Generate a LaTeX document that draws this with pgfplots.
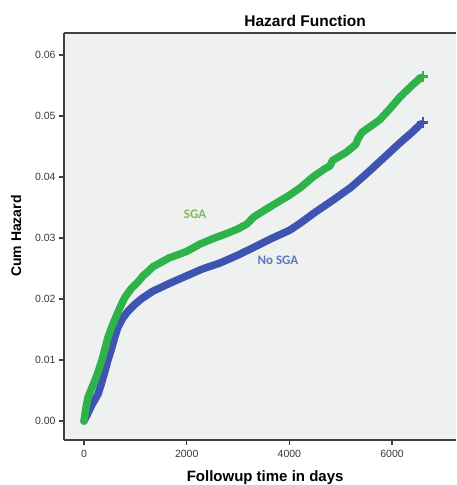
\documentclass[border=0pt]{standalone}
\usepackage{fontspec}
\setmainfont{Liberation Sans}
\newfontfamily\carlito{Carlito}
\usepackage{pgfplots}
\pgfplotsset{compat=1.18}
\definecolor{sgagreen}{RGB}{46,178,74}
\definecolor{nosgablue}{RGB}{62,84,176}
\definecolor{sgatext}{RGB}{122,186,92}
\definecolor{nosgatext}{RGB}{88,120,192}
\definecolor{bgc}{RGB}{239,240,240}
\definecolor{axc}{RGB}{64,64,64}
\begin{document}
\begin{tikzpicture}
\begin{axis}[
  scale only axis,
  width=392pt, height=407pt,
  xmin=-390, xmax=7246,
  ymin=-0.00311, ymax=0.0636,
  axis x line*=bottom,
  axis y line*=left,
  axis line style={axc, line width=1.1pt},
  axis background/.style={fill=bgc},
  xtick={0,2000,4000,6000},
  ytick={0,0.01,0.02,0.03,0.04,0.05,0.06},
  tick align=outside,
  major tick length=5pt,
  tick style={axc, line width=1.1pt},
  scaled ticks=false,
  /pgf/number format/assume math mode=true,
  xticklabel style={yshift=-1.5pt, /pgf/number format/.cd, fixed, 1000 sep={}},
  yticklabel style={/pgf/number format/.cd, fixed, fixed zerofill, precision=2},
  tick label style={font=\fontsize{10.5}{12}\selectfont, text=black!78},
  title={Hazard Function},
  every axis title/.style={at={(axis description cs:0.615,1.0295)}, anchor=center, font=\fontsize{15.5}{18}\selectfont\bfseries},
  xlabel={Followup time in days},
  xlabel style={at={(axis description cs:0.513,-0.0934)}, anchor=center, font=\fontsize{15}{18}\selectfont\bfseries},
  ylabel={Cum Hazard},
  ylabel style={at={(axis description cs:-0.1224,0.501)}, anchor=center, font=\fontsize{14}{17}\selectfont\bfseries},
  clip=false,
]
\coordinate (O) at (rel axis cs:0,0);
\draw[axc, line width=1.1pt] (rel axis cs:0,1) -- (rel axis cs:1,1);
% No SGA
\addplot[nosgablue, line width=7.5pt, line join=round, line cap=round] coordinates {
(0,0) (60,0.0010) (150,0.0026) (273,0.0044) (340,0.0062) (409,0.0082)
(460,0.0098) (545,0.0121) (600,0.0138) (662,0.0154) (750,0.0168)
(857,0.0180) (1000,0.0192) (1130,0.0201) (1344,0.0213)
(1500,0.0219) (1675,0.0226) (2000,0.0238) (2300,0.0249) (2649,0.0259)
(3000,0.0272) (3291,0.0284) (3650,0.0299) (4012,0.0313) (4207,0.0324)
(4500,0.0342) (4849,0.0362) (5200,0.0383) (5511,0.0406) (5822,0.0430)
(6154,0.0456) (6400,0.0474) (6560,0.0487)
};
% SGA
\addplot[sgagreen, line width=7.5pt, line join=round, line cap=round] coordinates {
(0,0) (30,0.0018) (78,0.0039) (140,0.0052) (214,0.0067) (280,0.0082)
(350,0.0100) (410,0.0119) (467,0.0137) (530,0.0152)
(604,0.0167) (700,0.0186) (798,0.0203) (920,0.0217)
(1052,0.0228) (1150,0.0238) (1247,0.0245) (1344,0.0253) (1500,0.0260) (1650,0.0267)
(1811,0.0272) (2000,0.0278) (2259,0.0290) (2512,0.0299) (2800,0.0308)
(3000,0.0315) (3174,0.0323) (3300,0.0334) (3486,0.0344) (3800,0.0360)
(4000,0.0370) (4207,0.0382) (4460,0.0400) (4700,0.0414) (4790,0.0418) (4840,0.0427)
(5100,0.0440) (5290,0.0453) (5340,0.0463) (5414,0.0473) (5765,0.0494)
(5959,0.0512) (6154,0.0531) (6400,0.0551) (6560,0.0563)
};
\addplot[only marks, mark=+, mark size=5.5pt, sgagreen, line width=2.6pt] coordinates {(6600,0.0565)};
\addplot[only marks, mark=+, mark size=5.5pt, nosgablue, line width=2.6pt] coordinates {(6600,0.0489)};
\node[text=sgatext, font=\carlito\bfseries\fontsize{13}{15}\selectfont] at (axis cs:2162,0.0339) {SGA};
\node[text=nosgatext, font=\carlito\bfseries\fontsize{13}{15}\selectfont] at (axis cs:3778,0.0264) {No SGA};
\end{axis}
\pgfresetboundingbox
\path (O) ++(-64pt,-45pt) rectangle ++(456pt,485pt);
\end{tikzpicture}
\end{document}
